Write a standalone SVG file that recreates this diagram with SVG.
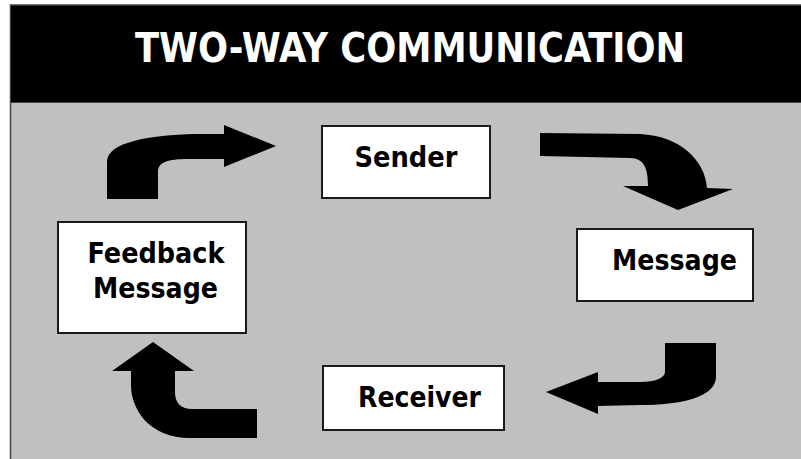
<svg xmlns="http://www.w3.org/2000/svg" width="801" height="459" viewBox="0 0 801 459">
<style>
.box{fill:#fff;stroke:#1a1a1a;stroke-width:2}
.lbl{font-family:"DejaVu Sans","Liberation Sans",sans-serif;font-weight:bold;font-stretch:condensed;fill:#000;text-anchor:middle}
.arr{fill:#000}
</style>
<rect x="0" y="0" width="801" height="459" fill="#fff"/>
<rect x="10.5" y="5" width="795" height="460" fill="#c0c0c0" stroke="#444" stroke-width="1.5"/>
<rect x="11" y="5.5" width="795" height="97" fill="#000"/>
<line x1="11" y1="102.5" x2="801" y2="102.5" stroke="#444" stroke-width="1"/>
<text x="410" y="62" font-family="DejaVu Sans, Liberation Sans, sans-serif" font-weight="bold" font-stretch="condensed" font-size="40" fill="#fff" text-anchor="middle" textLength="550" lengthAdjust="spacingAndGlyphs">TWO-WAY COMMUNICATION</text>
<g id="connectors">
<path class="arr" d="M107,199 L107,162 C107,142 150,135 195,134 L224,134 L224,125 L276,146 L224,167 L224,159 L188,159 C168,159 158,162 158,172 L158,199 Z"/>
<path class="arr" d="M540,133 L640,134 C680,136 705,160 707,188 L733,189 L678,210 L623,186 L648,186 C648,170 645,158 630,158 L540,156 Z"/>
<path class="arr" d="M665,343 L716,343 L716,378 C714,398 680,405 640,405 L598,406 L598,414 L546,392 L598,372 L598,382 L640,382 C655,382 665,378 665,372 Z"/>
<path class="arr" d="M153,342 L194,371 L175,371 L175,392 C175,402 180,409 192,409 L257,409 L257,438 L190,438 C150,438 131,410 131,385 L131,371 L112,371 Z"/>
</g>
<g id="sender">
<rect class="box" x="322" y="126" width="168" height="72"/>
<text class="lbl" x="406" y="167" font-size="29" textLength="103" lengthAdjust="spacingAndGlyphs">Sender</text>
</g>
<g id="message">
<rect class="box" x="577" y="229" width="176" height="72"/>
<text class="lbl" x="674.5" y="270" font-size="29" textLength="125" lengthAdjust="spacingAndGlyphs">Message</text>
</g>
<g id="receiver">
<rect class="box" x="323" y="366" width="181" height="64"/>
<text class="lbl" x="419.5" y="407" font-size="29" textLength="123" lengthAdjust="spacingAndGlyphs">Receiver</text>
</g>
<g id="feedback">
<rect class="box" x="58" y="222" width="188" height="111"/>
<text class="lbl" x="156" y="263" font-size="29" textLength="137" lengthAdjust="spacingAndGlyphs">Feedback</text>
<text class="lbl" x="155.5" y="298" font-size="29" textLength="125" lengthAdjust="spacingAndGlyphs">Message</text>
</g>
</svg>
